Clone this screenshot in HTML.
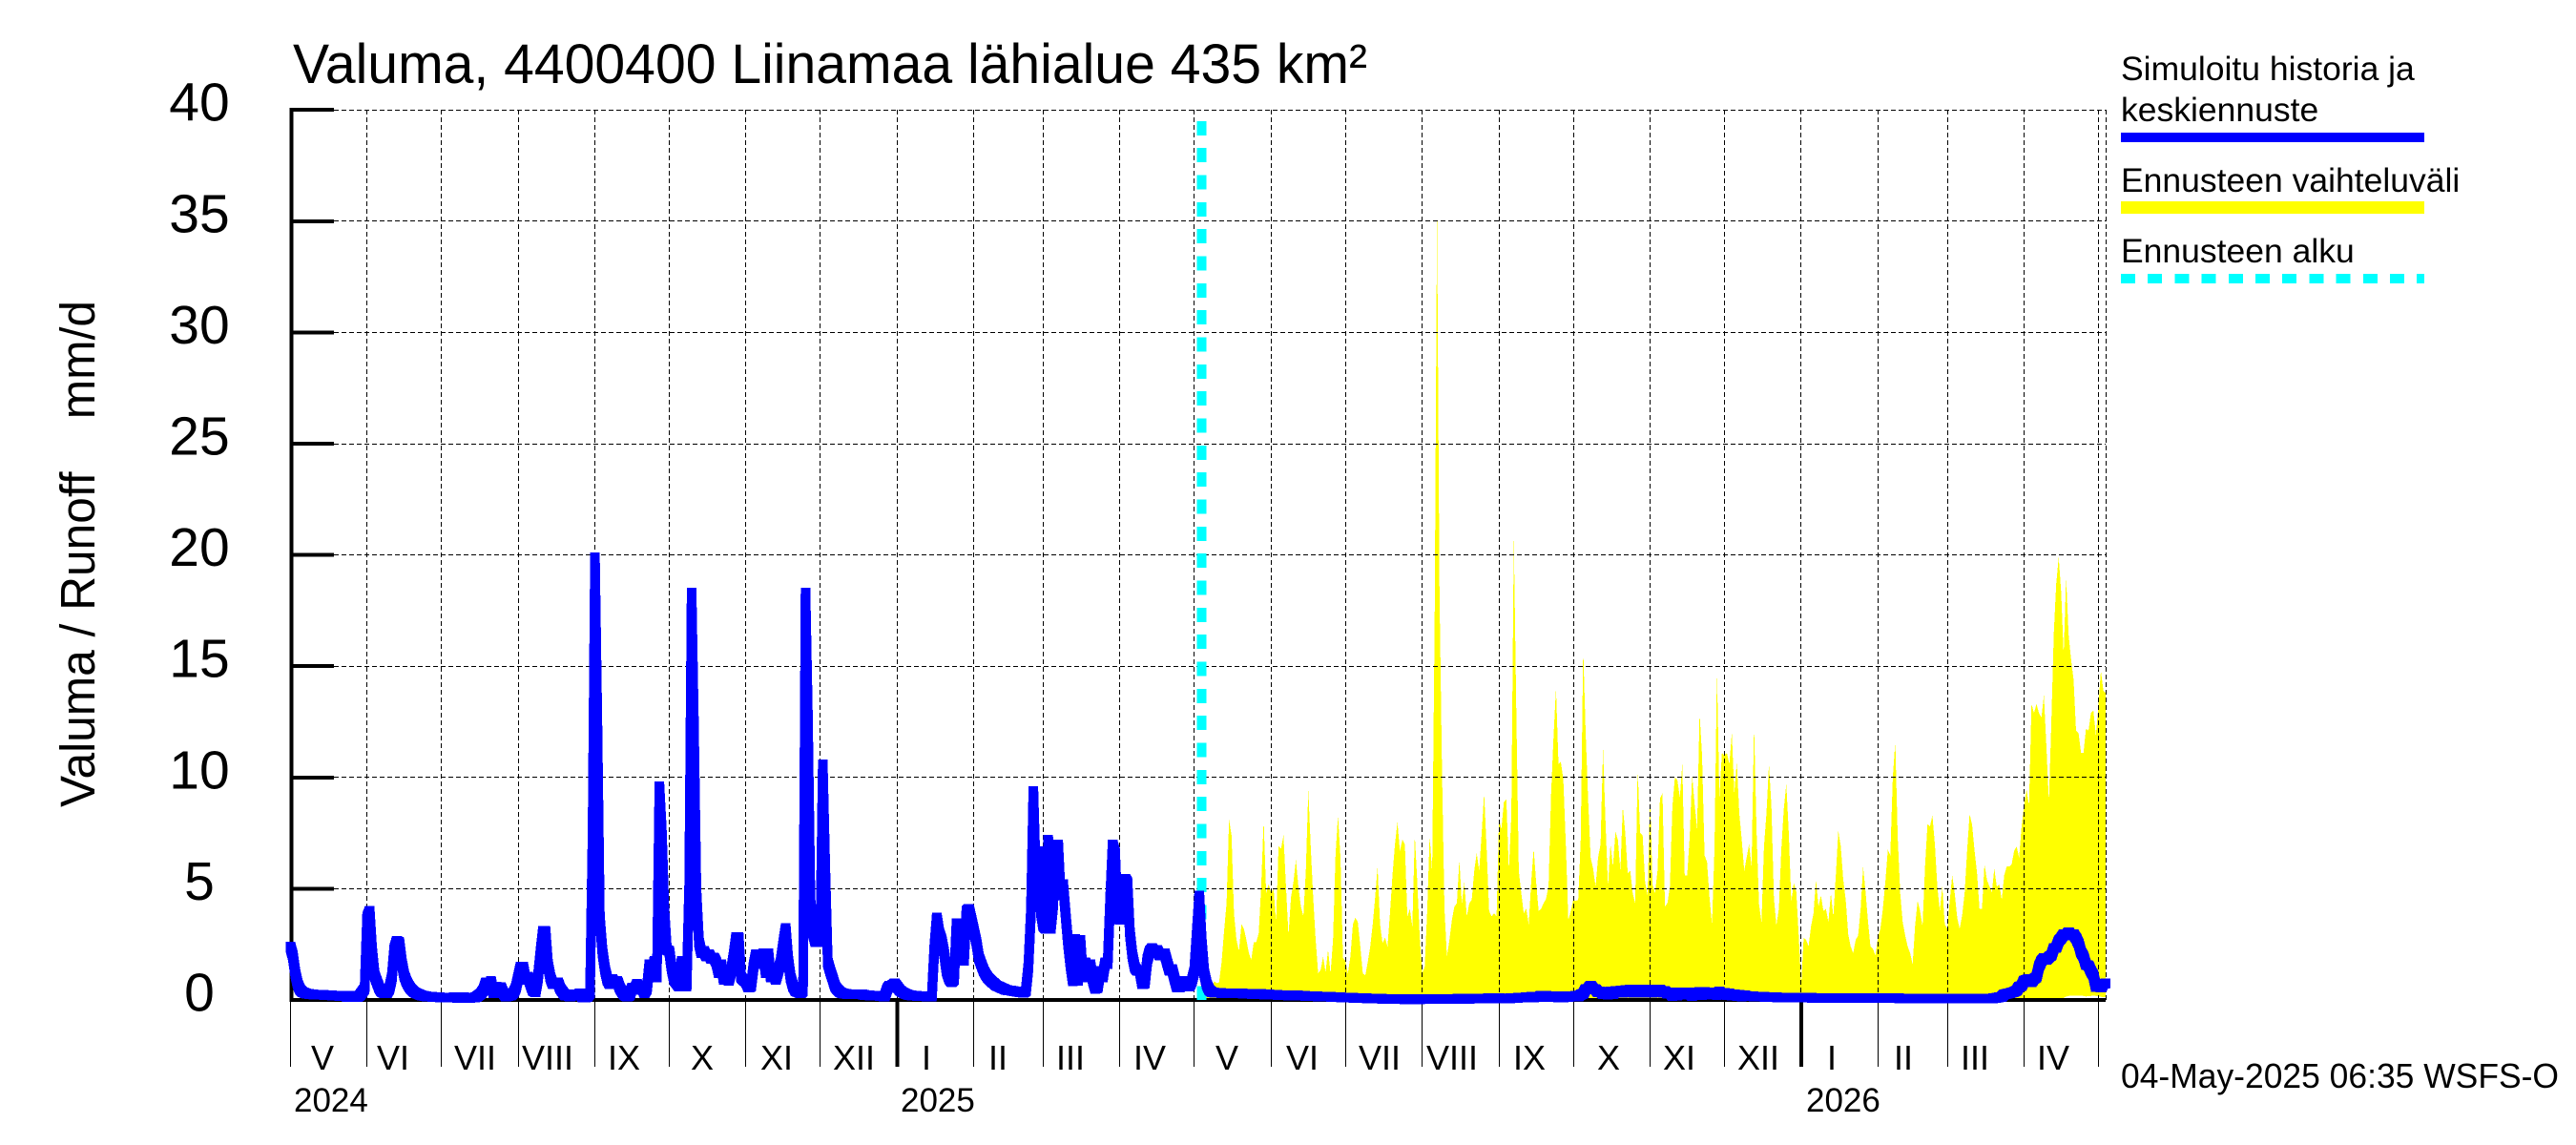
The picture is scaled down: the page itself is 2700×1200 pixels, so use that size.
<!DOCTYPE html>
<html lang="fi">
<head>
<meta charset="utf-8">
<title>Valuma, 4400400 Liinamaa lähialue 435 km²</title>
<style>
html,body{margin:0;padding:0;background:#fff;}
svg{display:block;}
text{font-family:"Liberation Sans",sans-serif;fill:#000;white-space:pre;}
</style>
</head>
<body>
<svg id="chart" xmlns="http://www.w3.org/2000/svg" width="2700" height="1200" viewBox="0 0 2700 1200">
  <rect x="0" y="0" width="2700" height="1200" fill="#fff"/>
  <g id="band-layer"></g>
  <g id="grid-layer"></g>
  <g id="axis-layer"></g>
  <g id="start-layer"></g>
  <g id="line-layer"></g>
  <g id="label-layer"></g>

  <text x="307" y="87" font-size="58" textLength="1126" lengthAdjust="spacingAndGlyphs">Valuma, 4400400 Liinamaa lähialue 435 km²</text>
  <text transform="translate(99,846) rotate(-90)" font-size="51" textLength="531" lengthAdjust="spacingAndGlyphs" xml:space="preserve">Valuma / Runoff    mm/d</text>

  <g font-size="36" text-anchor="middle">
    <text x="338" y="1121">V</text>
    <text x="412" y="1121">VI</text>
    <text x="498" y="1121">VII</text>
    <text x="574" y="1121">VIII</text>
    <text x="654" y="1121">IX</text>
    <text x="736" y="1121">X</text>
    <text x="814" y="1121">XI</text>
    <text x="895" y="1121">XII</text>
    <text x="971" y="1121">I</text>
    <text x="1046" y="1121">II</text>
    <text x="1122" y="1121">III</text>
    <text x="1205" y="1121">IV</text>
    <text x="1286" y="1121">V</text>
    <text x="1365" y="1121">VI</text>
    <text x="1446" y="1121">VII</text>
    <text x="1522" y="1121">VIII</text>
    <text x="1603" y="1121">IX</text>
    <text x="1686" y="1121">X</text>
    <text x="1760" y="1121">XI</text>
    <text x="1843" y="1121">XII</text>
    <text x="1920" y="1121">I</text>
    <text x="1995" y="1121">II</text>
    <text x="2070" y="1121">III</text>
    <text x="2152" y="1121">IV</text>
  </g>
  <g font-size="35">
    <text x="308" y="1165">2024</text>
    <text x="944" y="1165">2025</text>
    <text x="1893" y="1165">2026</text>
  </g>

  <g>
    <text x="2223" y="84" font-size="35.5">Simuloitu historia ja</text>
    <text x="2223" y="127" font-size="35.5">keskiennuste</text>
    <rect x="2223" y="139" width="318" height="10" fill="#0000ff"/>
    <text x="2223" y="201" font-size="35.5">Ennusteen vaihteluväli</text>
    <rect x="2223" y="211" width="318" height="13" fill="#ffff00"/>
    <text x="2223" y="275" font-size="35.5">Ennusteen alku</text>
    <line x1="2223" y1="292" x2="2541" y2="292" stroke="#00ffff" stroke-width="10" stroke-dasharray="15 13.2" shape-rendering="crispEdges"/>
  </g>

  <text x="2223" y="1140" font-size="36" textLength="459" lengthAdjust="spacingAndGlyphs">04-May-2025 06:35 WSFS-O</text>
</svg>

<script>
const yTicks = [0, 5, 10, 15, 20, 25, 30, 35, 40];
const monthLengths = [31,30,31,31,30,31,30,31,31,28,31,30,31,30,31,31,30,31,30,31,31,28,31,30];
const yearStartDays = [245, 610];
const lastDay = 733;
const forecastStartDay = 368;
const forecastStartTop = 39.5;

const historyValues = [
2.4,2.0,1.2,.7,.45,.35,.3,.28,.26,.25,
.24,.24,.23,.23,.22,.22,.21,.2,.2,.19,
.18,.17,.2,.13,.2,.14,.13,.13,.2,.35,
.5,3.7,4.0,2.2,1.1,.8,.5,.35,.3,.3,
.5,1.0,2.3,2.65,2.6,1.7,1.1,.8,.6,.45,
.35,.3,.25,.2,.18,.16,.15,.14,.13,.12,
.12,.11,.11,.11,.1,.1,.12,.1,.09,.1,
.13,.09,.09,.1,.1,.13,.2,.3,.45,.8,
.5,.85,.3,.6,.55,.57,.3,.15,.18,.2,
.3,.5,1.0,1.5,1.5,.9,1.05,.7,.4,.35,
1.0,2.1,3.1,3.1,1.6,1.0,.7,.8,.8,.5,
.35,.2,.2,.15,.25,.25,.2,.3,.1,.1,
.15,.3,7.2,19.9,12.3,3.6,2.2,1.4,.9,.7,
.95,.7,.85,.55,.35,.2,.15,.2,.55,.45,
.72,.45,.55,.3,.5,1.6,1.1,1.75,1.0,9.6,
7.5,4.0,2.25,2.2,1.4,.9,.75,.6,1.75,1.7,
.6,5.0,18.3,12.2,4.8,2.6,2.1,2.2,1.95,2.05,
1.85,1.9,1.7,1.2,1.6,.9,1.3,.85,1.3,2.0,
2.83,2.83,1.0,.9,.8,.55,.6,1.5,2.05,2.0,
1.6,2.1,1.2,2.1,1.0,1.25,.9,1.3,1.7,2.5,
3.23,1.8,1.0,.6,.4,.35,.3,.4,18.3,12.5,
4.4,3.0,2.6,2.6,2.7,10.6,5.9,1.7,1.3,.95,
.6,.45,.35,.3,.28,.26,.26,.26,.25,.25,
.25,.25,.22,.22,.2,.2,.2,.2,.18,.17,
.15,.5,.65,.65,.75,.6,.45,.35,.3,.25,
.22,.2,.2,.18,.18,.17,.17,.16,.15,.15,
2.3,3.7,3.0,2.7,2.1,1.3,.95,.8,.9,3.45,
2.0,1.75,1.75,4.0,4.1,3.6,3.1,2.6,1.9,1.6,
1.3,1.1,.95,.85,.75,.65,.6,.55,.5,.45,
.43,.42,.4,.38,.36,.34,.33,.4,1.5,3.9,
9.4,5.6,6.7,4.0,3.3,3.2,7.2,3.2,4.3,7.0,
7.0,4.7,5.2,3.9,2.6,1.6,.83,2.75,.85,2.7,
1.0,1.7,1.1,1.6,.9,.5,.55,1.3,1.0,1.7,
1.6,4.5,7.0,6.6,3.7,3.6,5.45,5.45,5.3,3.0,
2.0,1.45,1.3,1.3,.7,.75,1.8,2.2,2.33,2.1,
2.25,2.0,2.1,2.1,1.7,1.3,1.4,.95,.55,.55,
.75,.85,.85,.6,.85,1.3,3.0,4.7
];

const forecastMean = [
2.6,1.2,.7,.45,.35,.33,.32,.32,.31,.31,
.3,.3,.31,.3,.29,.29,.3,.28,.28,.27,
.27,.26,.26,.25,.27,.25,.24,.25,.24,.23,
.23,.22,.22,.21,.21,.2,.2,.19,.21,.2,
.19,.19,.18,.18,.17,.18,.17,.16,.16,.15,
.15,.14,.14,.13,.13,.12,.12,.11,.11,.1,
.1,.1,.09,.09,.08,.08,.08,.07,.07,.07,
.06,.06,.06,.05,.05,.05,.05,.04,.04,.04,
.04,.04,.03,.03,.03,.03,.04,.03,.03,.04,
.04,.04,.04,.05,.04,.04,.05,.04,.05,.05,
.05,.05,.05,.05,.06,.05,.05,.05,.05,.06,
.06,.06,.07,.07,.06,.07,.08,.08,.07,.07,
.08,.07,.06,.07,.07,.08,.08,.09,.1,.1,
.1,.13,.1,.14,.11,.16,.13,.2,.16,.19,
.13,.17,.12,.17,.11,.16,.11,.17,.12,.18,
.14,.19,.15,.24,.28,.48,.5,.65,.5,.48,
.34,.38,.25,.33,.24,.38,.25,.4,.35,.42,
.32,.45,.4,.48,.33,.45,.4,.47,.33,.42,
.35,.47,.33,.42,.35,.47,.33,.4,.27,.35,
.18,.25,.2,.35,.28,.35,.24,.31,.18,.35,
.28,.36,.22,.37,.25,.29,.23,.35,.22,.38,
.25,.33,.22,.29,.19,.26,.18,.24,.16,.22,
.18,.17,.17,.16,.15,.15,.14,.14,.13,.13,
.12,.12,.12,.11,.11,.11,.1,.1,.1,.1,
.1,.1,.1,.1,.1,.1,.1,.09,.09,.09,
.09,.09,.09,.09,.09,.09,.09,.09,.09,.09,
.09,.09,.09,.09,.08,.09,.08,.08,.08,.08,
.08,.08,.08,.08,.08,.08,.08,.08,.08,.08,
.08,.08,.07,.07,.07,.07,.07,.07,.07,.07,
.07,.07,.07,.07,.07,.07,.07,.07,.07,.07,
.07,.07,.07,.07,.07,.07,.07,.07,.07,.07,
.07,.07,.07,.07,.07,.07,.07,.07,.07,.07,
.08,.1,.12,.14,.25,.28,.3,.33,.36,.42,
.6,.62,.88,.9,.95,.8,.95,1.02,1.5,1.75,
1.88,1.8,1.93,2.0,2.33,2.35,2.65,2.78,2.95,2.9,
3.05,2.9,2.95,2.78,2.55,2.15,1.95,1.58,1.55,1.3,
1.1,.58,.68,.55,.72,.75
];

const forecastHigh = [
2.6,1.2,.7,.5,.5,.85,.75,.8,1.7,3.1,
4.35,8.1,7.4,3.9,2.7,2.2,3.4,3.2,2.7,2.1,
1.8,2.6,2.6,3.0,5.1,8.1,4.8,5.2,4.8,5.0,
3.5,6.9,6.8,7.4,5.1,2.9,4.6,5.3,6.3,5.1,
4.2,3.75,5.8,9.45,6.8,4.6,2.7,1.2,1.35,1.95,
1.25,2.25,1.2,2.7,6.5,8.3,6.4,1.9,1.75,1.2,
1.95,3.4,3.7,3.5,2.4,1.2,1.1,1.7,2.4,3.4,
4.6,6.0,3.4,2.55,2.8,2.4,3.9,5.6,7.0,8.0,
6.7,7.2,7.0,3.75,4.1,3.3,7.4,5.3,2.8,1.2,
1.5,4.0,7.4,5.7,17.0,35.4,18.3,10.4,4.1,1.95,
2.7,3.6,4.2,4.35,6.3,4.35,5.3,3.75,4.35,4.5,
5.8,6.6,5.8,7.5,9.3,6.8,4.0,3.75,3.9,3.75,
8.1,7.7,8.9,9.0,5.8,8.3,20.8,13.0,5.8,4.8,
3.9,4.1,3.4,5.3,6.8,5.3,4.0,4.1,4.35,4.55,
5.1,9.2,11.8,14.0,10.6,10.7,9.9,7.0,3.6,4.0,
4.5,4.45,4.5,7.2,15.8,12.0,9.0,6.4,5.9,5.1,
6.4,7.0,11.3,8.0,5.1,7.0,6.0,7.55,7.2,5.8,
8.7,7.5,5.7,5.8,4.8,4.35,10.4,7.5,7.4,5.3,
4.7,9.2,5.2,4.8,5.8,9.05,9.3,4.2,4.35,5.1,
8.7,10.0,9.9,9.1,10.6,5.6,5.6,7.3,10.1,8.8,
7.7,12.9,11.0,6.5,6.2,4.6,3.4,6.75,14.8,9.1,
11.1,11.0,11.1,10.6,12.0,9.3,10.7,8.4,7.2,5.8,
6.4,7.0,6.0,12.4,7.6,4.3,3.5,6.9,8.4,10.6,
8.7,4.6,3.35,4.1,6.8,8.6,9.7,7.5,4.4,5.25,
4.9,2.9,.65,2.8,2.7,2.4,3.3,3.9,5.4,4.2,
4.7,4.0,4.1,3.5,4.8,3.75,5.6,7.6,6.9,5.4,
4.5,2.95,2.4,2.1,2.7,2.9,4.1,6.0,4.85,3.5,
2.4,2.3,2.0,2.8,3.2,4.1,5.3,6.75,6.5,10.0,
11.6,7.3,4.8,3.5,2.9,2.4,2.1,1.6,3.35,4.45,
4.0,3.3,6.0,7.9,7.8,8.3,7.0,5.1,4.0,5.1,
3.4,3.2,4.45,5.6,4.8,3.7,3.2,3.8,4.8,6.7,
8.35,7.9,6.7,5.7,4.1,4.1,6.1,5.4,5.1,4.85,
5.9,5.1,5.2,4.5,5.6,6.0,6.0,6.1,6.7,6.9,
6.4,7.8,8.75,9.45,8.75,13.3,12.9,13.3,12.9,12.7,
13.7,11.4,8.9,12.5,16.5,18.7,19.9,18.3,15.5,19.0,
16.4,15.3,14.4,12.1,12.0,11.1,11.1,12.2,12.1,12.9,
13.0,11.9,13.2,14.8,13.9,13.8
];

const forecastLow = [
.05,.05,.05,.05,.05,.05,.05,.05,.05,.05,
.05,.05,.05,.05,.05,.05,.05,.05,.05,.05,
.05,.05,.05,.05,.05,.05,.05,.05,.05,.05,
.05,.05,.05,.05,.05,.05,.05,.05,.05,.05,
.05,.05,.05,.05,.05,.05,.05,.05,.05,.05,
.05,.05,.05,.05,.05,.05,.05,.05,.05,.05,
.05,.05,.05,.05,.05,.05,.05,.05,.05,.05,
.05,.05,.05,.05,.05,.05,.05,.05,.05,.05,
.05,.05,.05,.05,.05,.05,.05,.05,.05,.05,
.05,.05,.05,.05,.05,.05,.05,.05,.05,.05,
.05,.05,.05,.05,.05,.05,.05,.05,.05,.05,
.05,.05,.05,.05,.05,.05,.05,.05,.05,.05,
.05,.05,.05,.05,.05,.05,.05,.05,.05,.05,
.05,.05,.05,.05,.05,.05,.05,.05,.05,.05,
.05,.05,.05,.05,.05,.05,.05,.05,.05,.05,
.05,.05,.05,.05,.05,.05,.05,.05,.05,.05,
.05,.05,.05,.05,.05,.05,.05,.05,.05,.05,
.05,.05,.05,.05,.05,.05,.05,.05,.05,.05,
.05,.05,.05,.05,.05,.05,.05,.05,.05,.05,
.05,.05,.05,.05,.05,.05,.05,.05,.05,.05,
.05,.05,.05,.05,.05,.05,.05,.05,.05,.05,
.05,.05,.05,.05,.05,.05,.05,.05,.05,.05,
.05,.05,.05,.05,.05,.05,.05,.05,.05,.05,
.05,.05,.05,.05,.05,.05,.05,.05,.05,.05,
.05,.05,.05,.05,.05,.05,.05,.05,.05,.05,
.05,.05,.05,.05,.05,.05,.05,.05,.05,.05,
.05,.05,.05,.05,.05,.05,.05,.05,.05,.05,
.05,.05,.05,.05,.05,.05,.05,.05,.05,.05,
.05,.05,.05,.05,.05,.05,.05,.05,.05,.05,
.05,.05,.05,.05,.05,.05,.05,.05,.05,.05,
.05,.05,.05,.05,.05,.05,.05,.05,.05,.05,
.05,.05,.05,.05,.05,.05,.05,.05,.05,.05,
.05,.05,.05,.05,.05,.05,.05,.05,.05,.05,
.05,.05,.05,.05,.05,.05,.05,.05,.05,.05,
.05,.05,.05,.05,.05,.05,.05,.05,.1,.15,
.18,.2,.2,.18,.2,.2,.18,.16,.17,.18,
.2,.18,.16,.14,.13,.12
];

const SVG_NS = 'http://www.w3.org/2000/svg';
const AXIS_X0 = 304.3;
const DAY_PX = 2.596;
const BASE_Y = 1048;
const UNIT_PX = 23.32;
const TICK_END_X = 350;
const GRID_RIGHT = xScale(lastDay);
const PEN = 5;

function xScale(day) { return AXIS_X0 + DAY_PX * day; }
function yScale(value) { return BASE_Y - UNIT_PX * value; }
function make(tag, parent) {
  const el = document.createElementNS(SVG_NS, tag);
  parent.appendChild(el);
  return el;
}
function px(v) { return Math.floor(v) + 0.5; }
function setLine(el, x1, y1, x2, y2, width) {
  el.setAttribute('x1', x1);
  el.setAttribute('y1', y1);
  el.setAttribute('x2', x2);
  el.setAttribute('y2', y2);
  el.setAttribute('stroke', '#000');
  el.setAttribute('stroke-width', width);
  el.setAttribute('shape-rendering', 'crispEdges');
}
function penSegment(x1, y1, x2, y2) {
  const h = PEN;
  const pts = y2 < y1
    ? [[x1-h,y1-h],[x2-h,y2-h],[x2+h,y2-h],[x2+h,y2+h],[x1+h,y1+h],[x1-h,y1+h]]
    : [[x1-h,y1-h],[x1+h,y1-h],[x2+h,y2-h],[x2+h,y2+h],[x2-h,y2+h],[x1-h,y1+h]];
  return 'M' + pts.map(p => p[0].toFixed(1) + ' ' + p[1].toFixed(1)).join('L') + 'Z';
}
function penPath(startDay, values, prevValue) {
  let d = '';
  let px0 = prevValue === null ? null : xScale(startDay - 1);
  let py0 = prevValue === null ? null : yScale(prevValue);
  values.forEach(function (v, i) {
    const x = xScale(startDay + i);
    const y = yScale(v);
    if (px0 !== null) d += penSegment(px0, py0, x, y);
    px0 = x;
    py0 = y;
  });
  return d;
}

const bandLayer = document.getElementById('band-layer');
const gridLayer = document.getElementById('grid-layer');
const axisLayer = document.getElementById('axis-layer');
const startLayer = document.getElementById('start-layer');
const lineLayer = document.getElementById('line-layer');
const labelLayer = document.getElementById('label-layer');

/* forecast range band */
const upperPts = forecastHigh.map((v, i) => xScale(forecastStartDay + i).toFixed(1) + ',' + yScale(v).toFixed(1));
const lowerPts = forecastLow.map((v, i) => xScale(forecastStartDay + i).toFixed(1) + ',' + yScale(v).toFixed(1)).reverse();
const band = make('polygon', bandLayer);


band.setAttribute('points', upperPts.concat(lowerPts).join(' '));
band.setAttribute('fill', '#ffff00');
band.setAttribute('shape-rendering', 'crispEdges');

/* horizontal grid and y ticks */
yTicks.forEach(function (t) {
  const y = yScale(t);
  if (t > 0) {
    const g = make('line', gridLayer);
    
    
    setLine(g, TICK_END_X, px(y), GRID_RIGHT, px(y), 1);
    g.setAttribute('stroke-dasharray', '5 3');
  }
  const tick = make('line', axisLayer);
  
  
  setLine(tick, AXIS_X0, y, TICK_END_X, y, 4);
  const label = make('text', labelLayer);
  
  
  label.setAttribute('x', 209);
  label.setAttribute('y', y + 11.5);
  label.setAttribute('font-size', 57);
  label.setAttribute('text-anchor', 'middle');
  label.textContent = String(t);
});

/* month grid and ticks */
let monthDay = 0;
monthLengths.forEach(function (len, i) {
  const x = xScale(monthDay);
  if (i > 0) {
    const g = make('line', gridLayer);
    
    
    setLine(g, px(x), yScale(40), px(x), BASE_Y, 1);
    g.setAttribute('stroke-dasharray', '5 3');
  }
  const tick = make('line', axisLayer);
  
  
  setLine(tick, px(x), BASE_Y, px(x), 1118, 1);
  monthDay += len;
});
const lastMonthTick = make('line', axisLayer);


setLine(lastMonthTick, px(xScale(monthDay)), BASE_Y, px(xScale(monthDay)), 1118, 1);
const lastMonthGrid = make('line', gridLayer);


setLine(lastMonthGrid, px(xScale(monthDay)), yScale(40), px(xScale(monthDay)), BASE_Y, 1);
lastMonthGrid.setAttribute('stroke-dasharray', '5 3');

const rightEdge = make('line', gridLayer);


setLine(rightEdge, px(GRID_RIGHT), yScale(40), px(GRID_RIGHT), BASE_Y, 1);
rightEdge.setAttribute('stroke-dasharray', '5 3');

yearStartDays.forEach(function (day) {
  const yt = make('line', axisLayer);
  
  
  setLine(yt, xScale(day), BASE_Y, xScale(day), 1118, 4);
});

/* axes */
const yAxis = make('line', axisLayer);


setLine(yAxis, AXIS_X0 + 1, yScale(40) - 2, AXIS_X0 + 1, BASE_Y + 2, 4);
const xAxis = make('line', axisLayer);


setLine(xAxis, AXIS_X0 - 1, BASE_Y, GRID_RIGHT, BASE_Y, 4);

/* forecast start marker */
const startLine = make('line', startLayer);


startLine.setAttribute('x1', xScale(forecastStartDay));
startLine.setAttribute('x2', xScale(forecastStartDay));
startLine.setAttribute('y1', yScale(forecastStartTop));
startLine.setAttribute('y2', BASE_Y);
startLine.setAttribute('stroke', '#00ffff');
startLine.setAttribute('stroke-width', 10);
startLine.setAttribute('stroke-dasharray', '15 13.33');
startLine.setAttribute('shape-rendering', 'crispEdges');

/* simulated history and mean forecast */
const historyLine = make('path', lineLayer);


historyLine.setAttribute('d', penPath(0, historyValues, null));
historyLine.setAttribute('fill', '#0000ff');
historyLine.setAttribute('shape-rendering', 'crispEdges');

const meanLine = make('path', lineLayer);


meanLine.setAttribute('d', penPath(forecastStartDay, forecastMean, historyValues[historyValues.length - 1]));
meanLine.setAttribute('fill', '#0000ff');
meanLine.setAttribute('shape-rendering', 'crispEdges');
</script>
</body>
</html>
